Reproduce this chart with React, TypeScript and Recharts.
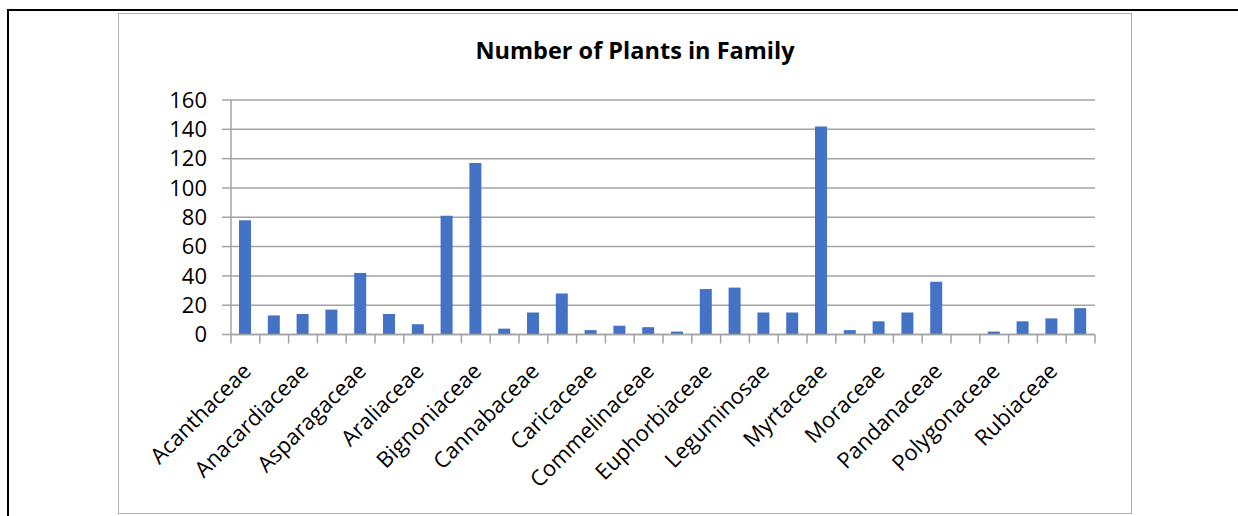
import { BarChart, Bar, XAxis, YAxis, CartesianGrid } from "recharts";

const families = [
  "Acanthaceae", "Amaranthaceae", "Anacardiaceae", "Annonaceae", "Asparagaceae",
  "Arecaceae", "Araliaceae", "Asteraceae", "Bignoniaceae", "Boraginaceae",
  "Cannabaceae", "Capparaceae", "Caricaceae", "Combretaceae", "Commelinaceae",
  "Cucurbitaceae", "Euphorbiaceae", "Lamiaceae", "Leguminosae", "Malvaceae",
  "Myrtaceae", "Meliaceae", "Moraceae", "Oleaceae", "Pandanaceae",
  "Piperaceae", "Polygonaceae", "Rosaceae", "Rubiaceae", "Rutaceae",
];
const plantCounts = [
  78, 13, 14, 17, 42, 14, 7, 81, 117, 4,
  15, 28, 3, 6, 5, 2, 31, 32, 15, 15,
  142, 3, 9, 15, 36, 0, 2, 9, 11, 18,
];
const yTicks = [0, 20, 40, 60, 80, 100, 120, 140, 160];

const data = families.map((name, i) => ({ name, value: plantCounts[i] }));

const FONT = "'Open Sans', 'Noto Sans', sans-serif";
const GRID = "#a3a3a3";
const PLOT_W = 864;

function FamilyTick(props: any) {
  const { x, y, payload } = props;
  const index = props.index ?? payload.index;
  const bw = PLOT_W / families.length;
  const tx = x + 7;
  const ty = y + 38;
  return (
    <g>
      <line x1={x - bw / 2} x2={x - bw / 2} y1={y} y2={y + 9} stroke={GRID} strokeWidth={1.5} />
      {index === families.length - 1 && (
        <line x1={x + bw / 2} x2={x + bw / 2} y1={y} y2={y + 9} stroke={GRID} strokeWidth={1.5} />
      )}
      {index % 2 === 0 && (
        <text
          x={tx}
          y={ty}
          transform={`rotate(-45 ${tx} ${ty})`}
          textAnchor="end"
          fontSize={22}
          fontFamily={FONT}
          fill="#000"
        >
          {payload.value}
        </text>
      )}
    </g>
  );
}

export default function App() {
  return (
    <div style={{ position: "absolute", left: 0, top: 0, width: 1238, height: 516, background: "#fff" }}>
      {/* page frame */}
      <div style={{ position: "absolute", left: 7, top: 9, width: 1231, height: 2, background: "#000" }} />
      <div style={{ position: "absolute", left: 7, top: 9, width: 2, height: 507, background: "#000" }} />
      {/* chart border */}
      <div
        style={{
          position: "absolute",
          left: 118,
          top: 13,
          width: 1012,
          height: 499,
          border: "1px solid #b0b0b0",
        }}
      />
      <div
        style={{
          position: "absolute",
          left: 335,
          top: 35,
          width: 600,
          textAlign: "center",
          fontFamily: FONT,
          fontWeight: 700,
          fontSize: 23.5,
          lineHeight: "30px",
          color: "#000",
        }}
      >
        Number of Plants in Family
      </div>
      <div style={{ position: "absolute", left: 0, top: 0 }}>
        <BarChart
          width={1238}
          height={516}
          data={data}
          margin={{ top: 100, right: 143, bottom: 31.5, left: 171 }}
        >
          <CartesianGrid vertical={false} stroke={GRID} strokeWidth={1.5} />
          <XAxis
            dataKey="name"
            interval={0}
            height={150}
            tickSize={0}
            tickMargin={0}
            tickLine={false}
            axisLine={{ stroke: GRID, strokeWidth: 1.5 }}
            tick={<FamilyTick />}
          />
          <YAxis
            width={60}
            domain={[0, 160]}
            ticks={yTicks}
            interval={0}
            tickSize={9}
            tickMargin={15}
            axisLine={{ stroke: GRID, strokeWidth: 1.5 }}
            tickLine={{ stroke: GRID, strokeWidth: 1.5 }}
            tick={{ fontSize: 22, fontFamily: FONT, fill: "#000" }}
          />
          <Bar dataKey="value" fill="#4472C4" barSize={12} isAnimationActive={false} />
        </BarChart>
      </div>
    </div>
  );
}
